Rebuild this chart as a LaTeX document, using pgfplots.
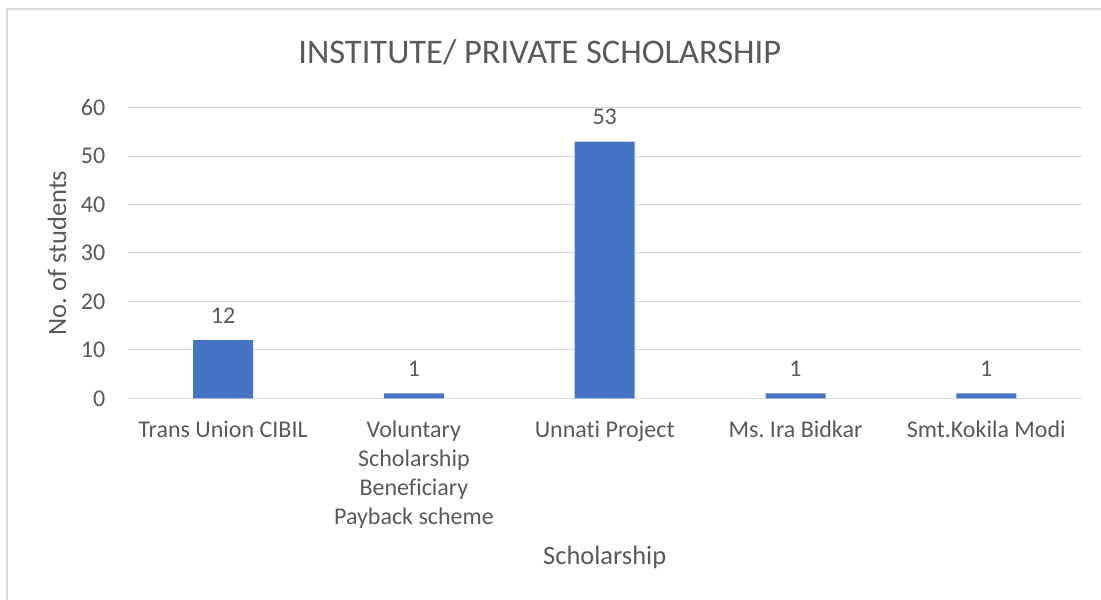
\documentclass[border=0pt]{standalone}
\usepackage{pgfplots}
\pgfplotsset{compat=1.18}
\usepackage{fontspec}
\setmainfont[Ligatures={NoCommon}]{Carlito}
\frenchspacing
\definecolor{txt}{HTML}{595959}
\definecolor{gridc}{HTML}{D9D9D9}
\definecolor{barc}{HTML}{4472C4}
\newcommand{\tf}{\fontsize{24bp}{29bp}\selectfont}
\newcommand{\lf}{\fontsize{26.5bp}{31bp}\selectfont}
\begin{document}
\begin{tikzpicture}[x=1bp,y=1bp]
\useasboundingbox (-127.7,-201.7) rectangle (973.3,398.3);
\draw[gridc, line width=1.5bp] (-120.7,-201.7) -- (-120.7,389.3) -- (973.3,389.3);
\begin{axis}[
  at={(0,0)}, anchor=south west,
  scale only axis, width=954bp, height=290.6bp,
  xmin=-0.5, xmax=4.5, ymin=0, ymax=60,
  ytick={0,10,...,60},
  xtick={0,1,2,3,4},
  xticklabels={Trans Union CIBIL,{Voluntary\\Scholarship\\Beneficiary\\Payback scheme},Unnati Project,Ms. Ira Bidkar,Smt.Kokila Modi},
  ymajorgrids, grid style={gridc, line width=1bp},
  axis x line*=bottom, axis y line*=left,
  y axis line style={draw=none},
  x axis line style={gridc, line width=1bp},
  major tick length=0pt,
  /pgf/number format/assume math mode=true,
  ticklabel style={font=\tf, text=txt},
  yticklabel style={anchor=east, xshift=-19bp},
  xticklabel style={anchor=north, align=center, yshift=-19bp},
  ylabel={No. of students},
  xlabel={Scholarship},
  label style={font=\lf, text=txt},
  ylabel style={at={(axis description cs:-0.0741,0.5)}, anchor=center, rotate=0},
  xlabel style={at={(axis description cs:0.5,-0.546)}, anchor=center},
  title={INSTITUTE/ PRIVATE SCHOLARSHIP},
  title style={at={(axis description cs:0.432,1.171)}, anchor=center, font=\fontsize{34.5bp}{40bp}\selectfont, text=txt},
  ybar, bar width=60bp,
  nodes near coords,
  nodes near coords style={font=\tf, text=txt, /pgf/number format/assume math mode=true, yshift=13bp},
]
\addplot[fill=barc, draw=none] coordinates {(0,12) (1,1) (2,53) (3,1) (4,1)};
\end{axis}
\end{tikzpicture}
\end{document}
